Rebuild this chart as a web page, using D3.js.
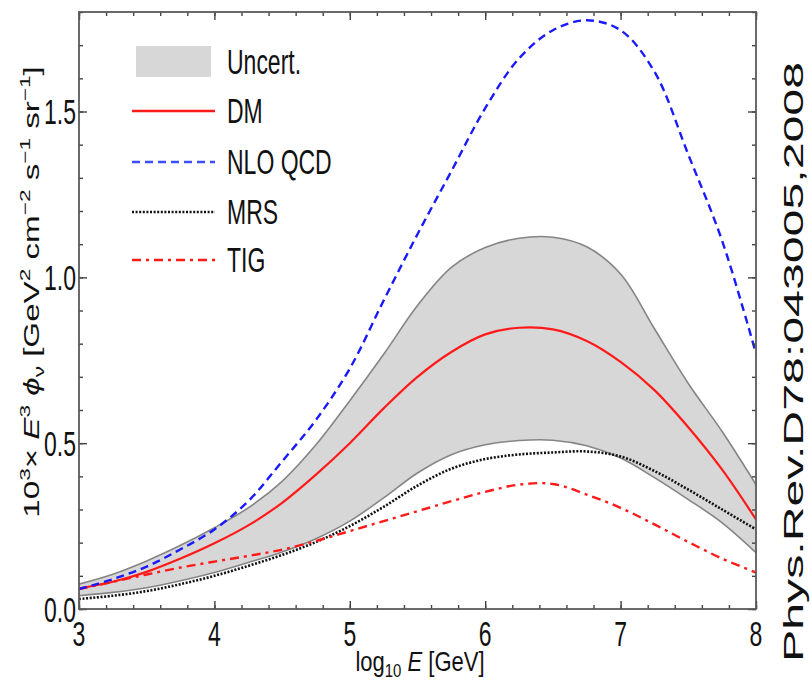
<!DOCTYPE html>
<html>
<head>
<meta charset="utf-8">
<script src="https://cdn.jsdelivr.net/npm/d3@7"></script>
<style>
  body { margin: 0; background: #fff; }
  svg { display: block; font-family: "Liberation Sans", Arial, sans-serif; }
</style>
</head>
<body>
<svg id="chart" width="812" height="683"></svg>
<script>
// log10 E grid and the curves
const logE       = [3.0, 3.25, 3.5, 3.75, 4.0, 4.25, 4.5, 4.75, 5.0, 5.25, 5.5, 5.75, 6.0, 6.25, 6.5, 6.75, 7.0, 7.25, 7.5, 7.75, 8.0];
const nloQcd     = [0.060, 0.090, 0.128, 0.180, 0.240, 0.325, 0.445, 0.570, 0.725, 0.930, 1.130, 1.320, 1.510, 1.660, 1.745, 1.775, 1.745, 1.620, 1.370, 1.110, 0.770];
const dm         = [0.062, 0.082, 0.112, 0.152, 0.198, 0.252, 0.320, 0.405, 0.500, 0.605, 0.700, 0.775, 0.828, 0.848, 0.843, 0.808, 0.745, 0.660, 0.548, 0.420, 0.270];
const uncertHigh = [0.075, 0.105, 0.145, 0.192, 0.245, 0.305, 0.385, 0.495, 0.628, 0.768, 0.915, 1.030, 1.090, 1.118, 1.121, 1.092, 1.010, 0.845, 0.680, 0.535, 0.375];
const uncertLow  = [0.040, 0.050, 0.064, 0.085, 0.110, 0.140, 0.172, 0.212, 0.265, 0.335, 0.410, 0.465, 0.495, 0.508, 0.509, 0.492, 0.455, 0.396, 0.330, 0.260, 0.170];
const mrs        = [0.030, 0.040, 0.054, 0.075, 0.100, 0.130, 0.163, 0.202, 0.250, 0.308, 0.372, 0.423, 0.452, 0.466, 0.472, 0.475, 0.460, 0.416, 0.360, 0.300, 0.240];
const tig        = [0.060, 0.082, 0.104, 0.125, 0.143, 0.160, 0.179, 0.205, 0.235, 0.265, 0.295, 0.325, 0.353, 0.375, 0.377, 0.345, 0.305, 0.255, 0.202, 0.152, 0.110];

const xTicks = [3, 4, 5, 6, 7, 8];
const yTicks = [0, 0.5, 1.0, 1.5];
const yTickLabels = ["0.0", "0.5", "1.0", "1.5"];
const legendNames = ["Uncert.", "DM", "NLO QCD", "MRS", "TIG"];

const pLeft = 79, pRight = 756, pTop = 12, pBottom = 609;
const svg = d3.select("#chart");

const x = d3.scaleLinear().domain([3, 8]).range([pLeft, pRight]);
const y = d3.scaleLinear().domain([0, 1.8]).range([pBottom, pTop]);

const rows = logE.map((e, i) => ({e: e, nlo: nloQcd[i], dm: dm[i], hi: uncertHigh[i], lo: uncertLow[i], mrs: mrs[i], tig: tig[i]}));
const smooth = d3.curveCatmullRom.alpha(0.5);

svg.append("clipPath").attr("id", "plotclip")
  .append("rect").attr("x", pLeft).attr("y", pTop).attr("width", pRight - pLeft).attr("height", pBottom - pTop);
const plot = svg.append("g").attr("clip-path", "url(#plotclip)");

// uncertainty band
plot.append("path")
  .datum(rows)
  .attr("fill", "#d7d7d7")
  .attr("d", d3.area().curve(smooth).x(d => x(d.e)).y0(d => y(d.lo)).y1(d => y(d.hi)));

function curve(key, color, width, dash) {
  plot.append("path")
    .datum(rows)
    .attr("fill", "none")
    .attr("stroke", color)
    .attr("stroke-width", width)
    .attr("stroke-dasharray", dash)
    .attr("d", d3.line().curve(smooth).x(d => x(d.e)).y(d => y(d[key])));
}
curve("hi", "#858585", 1.6, null);
curve("lo", "#858585", 1.6, null);
curve("mrs", "#111", 2.6, "2,1.6");
curve("tig", "#ff1a1a", 2.4, "9,5,3,5");
curve("dm", "#ff1a1a", 2.2, null);
curve("nlo", "#1a1aff", 2.4, "8,5");

// frame + inward ticks
const minorX = d3.range(3, 8.001, 0.2);
const minorY = d3.range(0, 1.801, 0.1);
function ticks(g, axisFn, scale, vals, size) {
  g.call(axisFn(scale).tickValues(vals).tickSizeInner(-size).tickSizeOuter(0).tickFormat(""))
   .call(s => s.select(".domain").remove())
   .call(s => s.selectAll("line").attr("stroke", "#444").attr("stroke-width", 1.4));
}
ticks(svg.append("g").attr("transform", `translate(0,${pBottom})`), d3.axisBottom, x, minorX, 4);
ticks(svg.append("g").attr("transform", `translate(0,${pBottom})`), d3.axisBottom, x, xTicks, 8);
ticks(svg.append("g").attr("transform", `translate(0,${pTop})`), d3.axisTop, x, minorX, 4);
ticks(svg.append("g").attr("transform", `translate(0,${pTop})`), d3.axisTop, x, xTicks, 8);
ticks(svg.append("g").attr("transform", `translate(${pLeft},0)`), d3.axisLeft, y, minorY, 4);
ticks(svg.append("g").attr("transform", `translate(${pLeft},0)`), d3.axisLeft, y, yTicks, 8);
ticks(svg.append("g").attr("transform", `translate(${pRight},0)`), d3.axisRight, y, minorY, 4);
ticks(svg.append("g").attr("transform", `translate(${pRight},0)`), d3.axisRight, y, yTicks, 8);

svg.append("rect")
  .attr("x", pLeft).attr("y", pTop).attr("width", pRight - pLeft).attr("height", pBottom - pTop)
  .attr("fill", "none").attr("stroke", "#5a5a5a").attr("stroke-width", 1.8);

// tick labels (tall, narrow look of the original)
svg.selectAll(".xlab").data(xTicks).enter().append("text")
  .attr("class", "xlab")
  .attr("transform", d => `translate(${x(d)},646) scale(1,1.5)`)
  .attr("text-anchor", "middle").attr("font-size", 23).attr("fill", "#111")
  .text(d => d);

svg.selectAll(".ylab").data(yTicks).enter().append("text")
  .attr("class", "ylab")
  .attr("transform", d => `translate(76,${y(d) + 12.5}) scale(1,1.5)`)
  .attr("text-anchor", "end").attr("font-size", 23).attr("fill", "#111")
  .text((d, i) => yTickLabels[i]);

// rich text helper
function rich(t, parts, base) {
  let shift = 0;
  parts.forEach(p => {
    const target = p[1] === "sup" ? -base * 0.42 : p[1] === "sub" ? base * 0.22 : 0;
    const ts = t.append("tspan").attr("dy", target - shift).text(p[0]);
    shift = target;
    if (p[1] === "sup" || p[1] === "sub") ts.attr("font-size", base * 0.68);
    if (p[1] === "it") ts.attr("font-style", "italic");
  });
}

// x title
const xt = svg.append("text")
  .attr("transform", "translate(420,671) scale(1,1.25)")
  .attr("text-anchor", "middle").attr("font-size", 22).attr("fill", "#111");
rich(xt, [["log", "n"], ["10", "sub"], [" ", "n"], ["E", "it"], ["  [GeV]", "n"]], 22);

// y title
const yt = svg.append("text")
  .attr("text-anchor", "middle").attr("font-size", 22).attr("fill", "#111");
rich(yt, [["10", "n"], ["3", "sup"], ["\u00d7 ", "n"], ["E", "it"], ["3", "sup"], [" ", "n"], ["\u03d5", "it"], ["\u03bd", "sub"],
          ["  [GeV", "n"], ["2", "sup"], [" cm", "n"], ["\u22122", "sup"], [" s", "n"], ["\u22121", "sup"], [" sr", "n"], ["\u22121", "sup"], ["]", "n"]], 22);
const yLen = yt.node().getComputedTextLength();
yt.attr("transform", `translate(39,292) rotate(-90) scale(${452 / yLen},1)`);

// reference note on the right
svg.append("text")
  .attr("transform", "translate(803,662) rotate(-90)")
  .attr("font-size", 28).attr("fill", "#111")
  .attr("textLength", 600).attr("lengthAdjust", "spacingAndGlyphs")
  .text("Phys.Rev.D78:043005,2008");

// legend
const legend = svg.append("g");
const rowY = [62, 111, 162, 212, 260];
legend.append("rect").attr("x", 136).attr("y", 46).attr("width", 75).attr("height", 31).attr("fill", "#d7d7d7");
const legendStyles = [null,
  {c: "#ff1a1a", w: 2.4, d: null},
  {c: "#3d4dff", w: 2.4, d: "8,5"},
  {c: "#111", w: 2.6, d: "2,1.6"},
  {c: "#ff1a1a", w: 2.6, d: "9,5,3,5"}];
legendStyles.forEach((s, i) => {
  if (!s) return;
  legend.append("line").attr("x1", 132).attr("x2", 215).attr("y1", rowY[i]).attr("y2", rowY[i])
    .attr("stroke", s.c).attr("stroke-width", s.w).attr("stroke-dasharray", s.d);
});
legend.selectAll("text").data(legendNames).enter().append("text")
  .attr("transform", (d, i) => `translate(227,${rowY[i] + 12}) scale(1,1.5)`)
  .attr("font-size", 23).attr("fill", "#111")
  .text(d => d);
</script>
</body>
</html>
